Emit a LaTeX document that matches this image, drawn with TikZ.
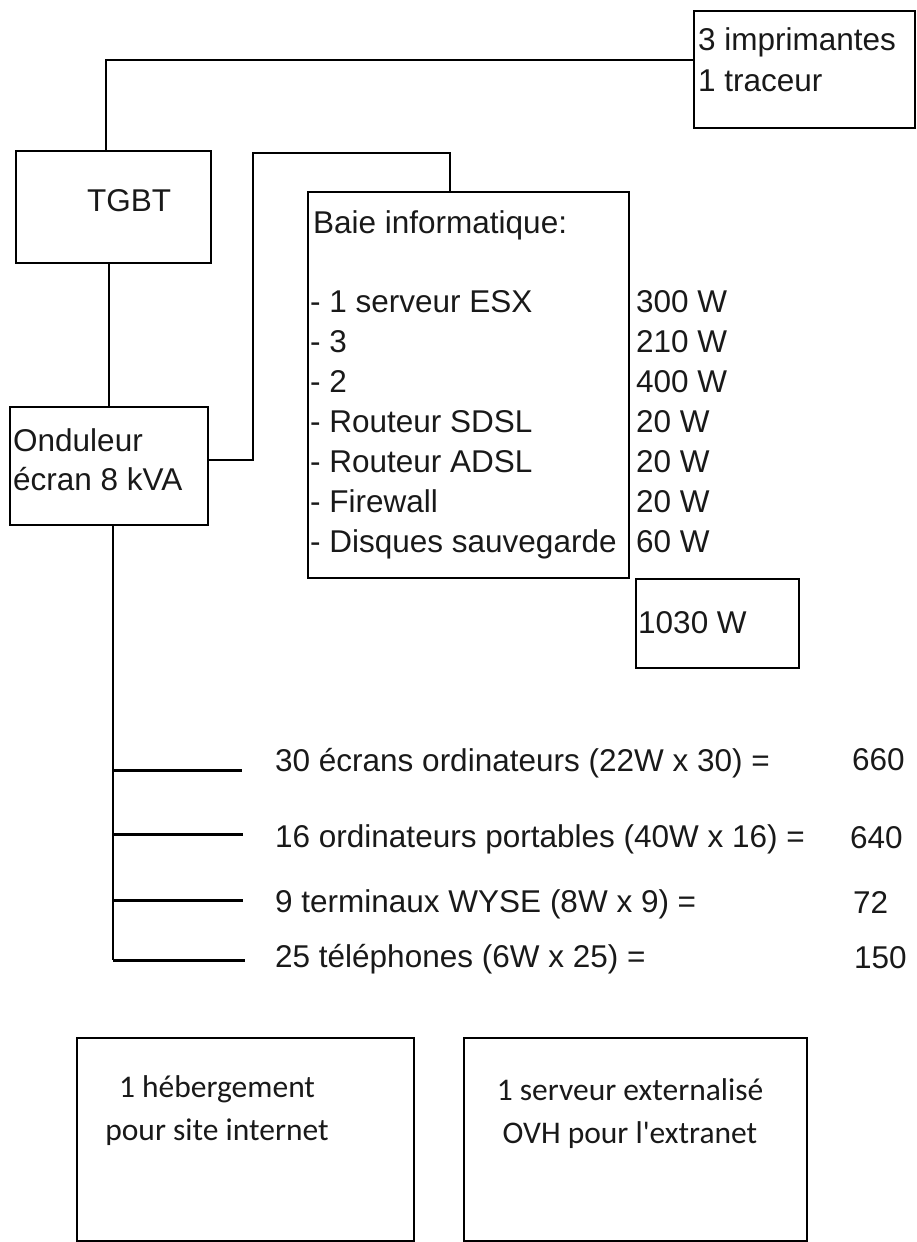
\documentclass[tikz,border=0pt]{standalone}
\usepackage{fontspec}
\setmainfont{Liberation Sans}
\newfontfamily\calibri{Carlito}[Ligatures=TeXOff]
\begin{document}
\begin{tikzpicture}[x=1pt,y=-1pt,
  box/.style={draw, line width=2.7pt, rectangle, inner sep=0pt},
  wire/.style={line width=2.5pt},
  branch/.style={line width=3pt},
  lbl/.style={anchor=base west, inner sep=0pt, text=black!90, font=\fontsize{31.5}{38}\selectfont},
  clbl/.style={anchor=base, inner sep=0pt, text=black!90, font=\calibri\fontsize{31.5}{38}\selectfont}]
\useasboundingbox (0,0) rectangle (917,1242);

% boxes
\node[box, minimum width=221pt, minimum height=117pt] (printer) at (804.5,69.5) {};
\node[box, minimum width=195pt, minimum height=112pt] (tgbt) at (113.5,207) {};
\node[box, minimum width=198pt, minimum height=118pt] (ond) at (109,466) {};
\node[box, minimum width=321pt, minimum height=386pt] (baie) at (468.5,385) {};
\node[box, minimum width=163pt, minimum height=89pt] (total) at (717.5,623.5) {};
\node[box, minimum width=337pt, minimum height=203pt] (host) at (245.5,1139.5) {};
\node[box, minimum width=343pt, minimum height=203pt] (ovh) at (635.5,1139.5) {};

% texts
\node[lbl] (tp1) at (698,50) {3 imprimantes};
\node[lbl] (tp2) at (698,91) {1 traceur};
\node[lbl] (tt) at (87,211) {TGBT};
\node[lbl] (to1) at (13,451) {Onduleur};
\node[lbl] (to2) at (13,490) {écran 8 kVA};

\node[lbl] (tb0) at (313,233) {Baie informatique:};
\node[lbl] (tb1) at (310,312) {- 1 serveur ESX};
\node[lbl] (tb2) at (310,352) {- 3};
\node[lbl] (tb3) at (310,392) {- 2};
\node[lbl] (tb4) at (310,432) {- Routeur SDSL};
\node[lbl] (tb5) at (310,472) {- Routeur ADSL};
\node[lbl] (tb6) at (310,512) {- Firewall};
\node[lbl] (tb7) at (310,552) {- Disques sauvegarde};
\node[lbl] (v1) at (636,312) {300 W};
\node[lbl] (v2) at (636,352) {210 W};
\node[lbl] (v3) at (636,392) {400 W};
\node[lbl] (v4) at (636,432) {20 W};
\node[lbl] (v5) at (636,472) {20 W};
\node[lbl] (v6) at (636,512) {20 W};
\node[lbl] (v7) at (636,552) {60 W};
\node[lbl] (vt) at (638,633) {1030 W};

\node[lbl] (l1) at (275,771) {30 écrans ordinateurs (22W x 30) =};
\node[lbl] (l2) at (275,847) {16 ordinateurs portables (40W x 16) =};
\node[lbl] (l3) at (275,912) {9 terminaux WYSE (8W x 9) =};
\node[lbl] (l4) at (275,967) {25 téléphones (6W x 25) =};
\node[lbl] (n1) at (852,770) {660};
\node[lbl] (n2) at (850,848) {640};
\node[lbl] (n3) at (853,913) {72};
\node[lbl] (n4) at (854,968) {150};

\node[clbl] (h1) at (217,1097) {1 hébergement};
\node[clbl] (h2) at (217,1140) {pour site internet};
\node[clbl] (o1) at (630,1100) {1 serveur externalisé};
\node[clbl] (o2) at (630,1143) {OVH pour l'extranet};

% connectors
\coordinate (c1) at (106,60);
\draw[wire] (tgbt.north -| c1) -- (c1) -- (c1 -| printer.west);
\draw[wire] (tgbt.south -| ond.north) -- (ond.north);
\coordinate (c2) at (253,460);
\coordinate (c3) at (253,153);
\coordinate (c4) at (450,153);
\draw[wire] (c2 -| ond.east) -- (c2) -- (c3) -- (c4) -- (c4 |- baie.north);
\coordinate (bus) at (113,960);
\draw[wire] (ond.south -| bus) -- (bus);
\coordinate (b1) at (242,770);
\coordinate (b2) at (243,834);
\coordinate (b3) at (243,900);
\coordinate (b4) at (245,960);
\draw[branch] (b1 -| bus) -- (b1);
\draw[branch] (b2 -| bus) -- (b2);
\draw[branch] (b3 -| bus) -- (b3);
\draw[branch] (b4 -| bus) -- (b4);
\end{tikzpicture}
\end{document}
